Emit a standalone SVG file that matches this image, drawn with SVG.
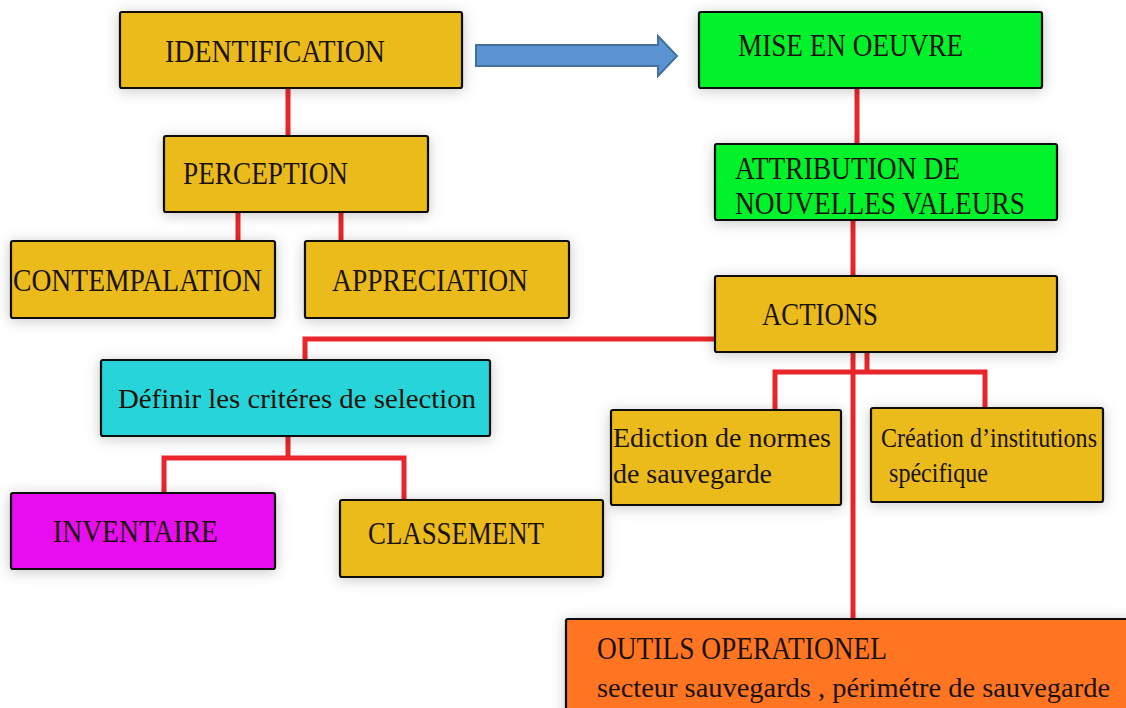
<svg xmlns="http://www.w3.org/2000/svg" width="1126" height="708" viewBox="0 0 1126 708">
  <defs>
    <filter id="glow" x="-20%" y="-30%" width="140%" height="160%">
      <feDropShadow dx="0" dy="2" stdDeviation="7" flood-color="#000" flood-opacity="0.22"/>
    </filter>
  </defs>
  <style>
    .box { stroke: #111; stroke-width: 2.2; filter: url(#glow); }
    .yellow { fill: #EBBB1D; }
    .green { fill: #00F22B; }
    .cyan { fill: #27D4D9; }
    .magenta { fill: #E80DF0; }
    .orange { fill: #FF7421; }
    .label { font-family: "Liberation Serif", "Times New Roman", serif; font-size: 31px; fill: #1a1208; }
    .small { font-size: 28px; }
    .link { stroke: #E8262B; stroke-width: 5; fill: none; }
  </style>
  <rect width="1126" height="708" fill="#fff"/>

  <!-- connectors -->
  <g id="connectors">
    <path class="link" d="M288 88 V137"/>
    <path class="link" d="M238 204 V251"/>
    <path class="link" d="M341 204 V251"/>
    <path class="link" d="M857 88 V145"/>
    <path class="link" d="M853 220 V277"/>
    <path class="link" d="M716 339 H305 V361"/>
    <path class="link" d="M288 436 V458 M164 493 V458 H404 V500"/>
    <path class="link" d="M867 352 V372 M775 410 V372 H985 V410"/>
    <path class="link" d="M853 352 V620"/>
    <path d="M476 45 H658 V36 L677 56 L658 76 V66 H476 Z" fill="#5B92D1" stroke="#41719C" stroke-width="2"/>
  </g>

  <g id="identification">
    <rect class="box yellow" x="120" y="12" width="342" height="76" rx="2"/>
    <text class="label" x="165" y="62" textLength="220" lengthAdjust="spacingAndGlyphs">IDENTIFICATION</text>
  </g>
  <g id="perception">
    <rect class="box yellow" x="164" y="136" width="264" height="76" rx="2"/>
    <text class="label" x="183" y="184" textLength="165" lengthAdjust="spacingAndGlyphs">PERCEPTION</text>
  </g>
  <g id="contemplation">
    <rect class="box yellow" x="11" y="241" width="264" height="77" rx="2"/>
    <text class="label" x="13" y="291" textLength="249" lengthAdjust="spacingAndGlyphs">CONTEMPALATION</text>
  </g>
  <g id="appreciation">
    <rect class="box yellow" x="305" y="241" width="264" height="77" rx="2"/>
    <text class="label" x="332" y="291" textLength="196" lengthAdjust="spacingAndGlyphs">APPRECIATION</text>
  </g>

  <g id="mise-en-oeuvre">
    <rect class="box green" x="699" y="12" width="343" height="76" rx="2"/>
    <text class="label" x="738" y="56" textLength="225" lengthAdjust="spacingAndGlyphs">MISE EN OEUVRE</text>
  </g>
  <g id="attribution">
    <rect class="box green" x="715" y="144" width="342" height="76" rx="2"/>
    <text class="label" x="735" y="179" textLength="225" lengthAdjust="spacingAndGlyphs">ATTRIBUTION DE</text>
    <text class="label" x="735" y="214" textLength="290" lengthAdjust="spacingAndGlyphs">NOUVELLES VALEURS</text>
  </g>
  <g id="actions">
    <rect class="box yellow" x="715" y="276" width="342" height="76" rx="2"/>
    <text class="label" x="762" y="325" textLength="116" lengthAdjust="spacingAndGlyphs">ACTIONS</text>
  </g>

  <g id="criteres">
    <rect class="box cyan" x="101" y="360" width="389" height="76" rx="2"/>
    <text class="label small" x="118" y="408" textLength="358" lengthAdjust="spacingAndGlyphs">Définir les critéres de selection</text>
  </g>
  <g id="inventaire">
    <rect class="box magenta" x="11" y="493" width="264" height="76" rx="2"/>
    <text class="label" x="53" y="542" textLength="165" lengthAdjust="spacingAndGlyphs">INVENTAIRE</text>
  </g>
  <g id="classement">
    <rect class="box yellow" x="340" y="500" width="263" height="77" rx="2"/>
    <text class="label" x="368" y="544" textLength="176" lengthAdjust="spacingAndGlyphs">CLASSEMENT</text>
  </g>

  <g id="ediction">
    <rect class="box yellow" x="611" y="410" width="230" height="95" rx="2"/>
    <text class="label small" x="613" y="447" textLength="218" lengthAdjust="spacingAndGlyphs">Ediction de normes</text>
    <text class="label small" x="613" y="483" textLength="159" lengthAdjust="spacingAndGlyphs">de sauvegarde</text>
  </g>
  <g id="creation">
    <rect class="box yellow" x="871" y="408" width="232" height="94" rx="2"/>
    <!-- first line horizontally condensed to stay inside the box -->
    <text class="label small" transform="translate(881 447) scale(0.86 1)" x="0" y="0">Création d’institutions</text>
    <text class="label small" x="889" y="482" textLength="99" lengthAdjust="spacingAndGlyphs">spécifique</text>
  </g>

  <g id="outils">
    <rect class="box orange" x="566" y="619" width="570" height="100" rx="2"/>
    <text class="label" x="597" y="659" textLength="290" lengthAdjust="spacingAndGlyphs">OUTILS OPERATIONEL</text>
    <text class="label small" x="597" y="697" textLength="513" lengthAdjust="spacingAndGlyphs">secteur sauvegards , périmétre de sauvegarde</text>
  </g>
</svg>
